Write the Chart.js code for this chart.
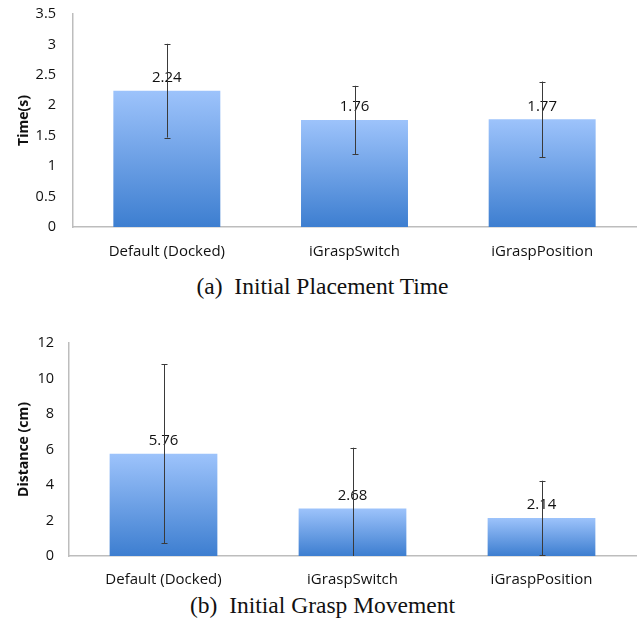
<!DOCTYPE html>
<html>
<head>
<meta charset="utf-8">
<script src="https://cdn.jsdelivr.net/npm/chart.js@4/dist/chart.umd.min.js"></script>
<style>
  body { margin: 0; background: #fff; width: 639px; height: 628px; position: relative; overflow: hidden; }
  .panel { position: absolute; left: 0; width: 639px; }
  canvas { display: block; }
  .cap { position: absolute; left: 3px; width: 639px; text-align: center; font-family: "Liberation Serif", "Times New Roman", serif; font-size: 23.5px; line-height: 1; color: #111; white-space: pre; }
</style>
</head>
<body>
<div class="panel" style="top:0;height:262px"><canvas id="timeChart" width="639" height="262"></canvas></div>
<div class="cap" style="top:275px">(a)  Initial Placement Time</div>
<div class="panel" style="top:320px;height:270px"><canvas id="graspChart" width="639" height="270"></canvas></div>
<div class="cap" style="top:594px">(b)  Initial Grasp Movement</div>

<script>
// Conditions compared in both panels
const categories = ["Default (Docked)", "iGraspSwitch", "iGraspPosition"];

// (a) initial placement time, seconds (mean and error half-width)
const placementTime = [2.24, 1.76, 1.77];
const placementTimeErr = [0.77, 0.56, 0.62];

// (b) initial grasp movement, centimetres (mean and error half-width)
const graspMovement = [5.76, 2.68, 2.14];
const graspMovementErr = [5.03, 3.42, 2.10];

const Y_TICK_FONT = { family: "'Open Sans', sans-serif", size: 14.5 };
const X_TICK_FONT = { family: "'Open Sans', sans-serif", size: 15 };
const TEXT_COLOR = "#111111";
const AXIS_COLOR = "#bdbdbd";

// Vertical top-to-bottom gradient for each bar
function barGradient(ctx) {
  const chart = ctx.chart;
  const yScale = chart.scales.y;
  if (!chart.chartArea || !yScale || ctx.parsed == null) return "#6a9fe6";
  const top = yScale.getPixelForValue(ctx.parsed.y);
  const base = yScale.getPixelForValue(0);
  if (!isFinite(top) || !isFinite(base) || base - top < 1) return "#6a9fe6";
  const g = chart.ctx.createLinearGradient(0, top, 0, base);
  g.addColorStop(0, "#9dc3fb");
  g.addColorStop(1, "#3d7ed0");
  return g;
}

// Value labels above the bars, then error bars drawn over them
const labelsAndErrors = {
  id: "labelsAndErrors",
  afterDatasetsDraw(chart, args, opts) {
    const { ctx, chartArea } = chart;
    const yScale = chart.scales.y;
    const meta = chart.getDatasetMeta(0);
    const values = chart.data.datasets[0].data;
    const errs = opts.errors || [];
    ctx.save();
    ctx.font = "15px 'Open Sans', sans-serif";
    ctx.fillStyle = TEXT_COLOR;
    ctx.textAlign = "center";
    ctx.textBaseline = "middle";
    meta.data.forEach((bar, i) => {
      ctx.fillText(values[i].toFixed(2), bar.x, bar.y - 13);
    });
    ctx.beginPath();
    ctx.rect(chartArea.left, chartArea.top - 2, chartArea.right - chartArea.left, chartArea.bottom - chartArea.top + 2);
    ctx.clip();
    ctx.strokeStyle = "#3a3a3a";
    ctx.lineWidth = 1;
    meta.data.forEach((bar, i) => {
      const e = errs[i];
      if (e == null) return;
      const x = Math.round(bar.x) + 0.5;
      const yHi = yScale.getPixelForValue(values[i] + e);
      const yLo = yScale.getPixelForValue(values[i] - e);
      ctx.beginPath();
      ctx.moveTo(x, yHi);
      ctx.lineTo(x, yLo);
      ctx.moveTo(x - 3, Math.round(yHi) + 0.5);
      ctx.lineTo(x + 3, Math.round(yHi) + 0.5);
      if (values[i] - e >= 0) {
        ctx.moveTo(x - 3, Math.round(yLo) + 0.5);
        ctx.lineTo(x + 3, Math.round(yLo) + 0.5);
      }
      ctx.stroke();
    });
    ctx.restore();
  }
};

function makeChart(id, values, errors, yTitle, yMax, yStep, layout) {
  return new Chart(document.getElementById(id), {
    type: "bar",
    data: {
      labels: categories,
      datasets: [{
        data: values,
        backgroundColor: barGradient,
        borderWidth: 0,
        categoryPercentage: 1,
        barPercentage: 0.57
      }]
    },
    options: {
      responsive: false,
      animation: false,
      events: [],
      layout: { padding: { top: layout.padTop, right: 3, left: 0, bottom: 0 } },
      plugins: {
        legend: { display: false },
        tooltip: { enabled: false },
        labelsAndErrors: { errors: errors }
      },
      scales: {
        x: {
          grid: { display: false, drawTicks: false },
          border: { display: true, color: AXIS_COLOR, width: 1.5 },
          ticks: { color: TEXT_COLOR, font: X_TICK_FONT, padding: layout.xPad, maxRotation: 0 },
          afterFit(s) { s.height = layout.xHeight; s.paddingLeft = 0; s.paddingRight = 0; }
        },
        y: {
          min: 0,
          max: yMax,
          grid: { display: false, drawTicks: false },
          border: { display: true, color: AXIS_COLOR, width: 1.5 },
          ticks: {
            stepSize: yStep,
            color: TEXT_COLOR,
            font: Y_TICK_FONT,
            padding: layout.tickPad,
            callback: (v) => String(+v.toFixed(2))
          },
          title: {
            display: true,
            text: yTitle,
            color: TEXT_COLOR,
            font: { family: "'Open Sans', sans-serif", size: 14, weight: "bold" },
            padding: { top: 16, bottom: 0 }
          },
          afterFit(s) { s.width = layout.yWidth; s.paddingTop = 0; s.paddingBottom = 0; }
        }
      }
    },
    plugins: [labelsAndErrors]
  });
}

makeChart("timeChart", placementTime, placementTimeErr, "Time(s)", 3.5, 0.5,
  { padTop: 14, xHeight: 35, yWidth: 73, tickPad: 17, xPad: 16 });
makeChart("graspChart", graspMovement, graspMovementErr, "Distance (cm)", 12, 2,
  { padTop: 23, xHeight: 34, yWidth: 69, tickPad: 15, xPad: 15 });
</script>
</body>
</html>
